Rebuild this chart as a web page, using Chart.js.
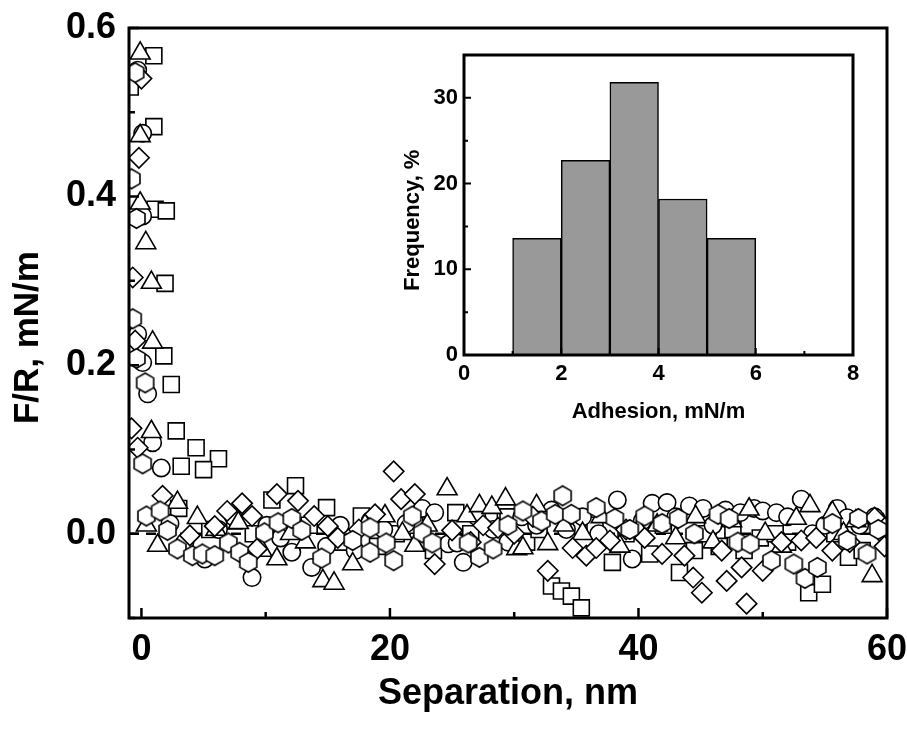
<!DOCTYPE html>
<html lang="en">
<head>
<meta charset="UTF-8">
<title>F/R vs separation</title>
<script src="https://cdn.jsdelivr.net/npm/chart.js@4.4.1/dist/chart.umd.min.js"></script>
<style>
  html, body { margin: 0; padding: 0; background: #fff; }
  #wrap { position: relative; width: 907px; height: 729px; }
  #inset { position: absolute; left: 385px; top: 40px; background: #fff; }
</style>
</head>
<body>
<div id="wrap">
  <canvas id="main" width="907" height="729"></canvas>
  <canvas id="inset" width="485" height="395"></canvas>
</div>
<script>
// ---- main plot data (separation nm, F/R mN/m) ----
const squareX = [-0.9, 1.0, 1.0, 1.1, 2.0, 1.9, 1.8, 2.4, 2.8, 4.4, 6.2, 3.2, 5.0,
  3.0, 5.5, 7.5, 9.0, 10.5, 12.4, 13.5, 14.9, 16.2, 17.7, 19.0, 20.5, 22.0, 23.5, 25.3, 26.5,
  28.0, 29.5, 31.0, 32.0, 33.0, 33.8, 34.6, 35.4, 36.5, 37.9, 39.0, 40.9, 42.0, 43.3, 44.5,
  45.5, 46.5, 47.6, 48.5, 49.8, 51.0, 52.0, 53.7, 54.8, 55.8, 56.9, 58.0, 59.5];
const squareY = [0.53, 0.567, 0.483, 0.385, 0.383, 0.297, 0.211, 0.177, 0.122, 0.102, 0.089, 0.080, 0.076,
  0.030, 0.005, 0.015, 0.000, 0.040, 0.057, 0.010, 0.031, -0.010, 0.021, -0.015, 0.000, 0.010, -0.020, 0.025, 0.000,
  0.015, 0.020, -0.010, 0.005, -0.062, -0.068, -0.074, -0.088, 0.010, -0.034, 0.000, -0.024, 0.010, -0.046, -0.020,
  0.000, -0.015, 0.005, -0.020, -0.005, 0.000, -0.010, -0.070, -0.060, 0.000, -0.028, -0.020, 0.010];

const circleX = [-0.3, 0.1, 0.1, -0.3, 0.1, 0.5, 0.9, 1.6,
  2.3, 3.5, 5.1, 6.2, 7.4, 8.9, 10.1, 11.2, 12.1, 13.7, 14.9, 16.0, 17.2, 18.4, 19.5, 21.3, 22.6,
  23.6, 24.7, 25.4, 25.9, 27.0, 28.3, 29.5, 30.6, 31.8, 33.0, 34.2, 35.5, 36.8, 38.3, 39.5, 40.3,
  41.1, 42.3, 43.0, 44.1, 45.2, 46.0, 47.0, 48.2, 49.3, 50.0, 51.1, 52.0, 53.1, 54.0, 55.0, 56.0,
  56.8, 57.8, 59.0, 59.8];
const circleY = [0.550, 0.475, 0.377, 0.237, 0.203, 0.166, 0.108, 0.078,
  0.012, -0.010, -0.030, 0.005, 0.020, -0.052, 0.010, -0.005, -0.022, -0.040, -0.015, 0.010, -0.020, 0.015, 0.005, 0.012, 0.030,
  0.025, -0.012, -0.011, -0.034, 0.020, 0.005, -0.010, 0.020, 0.010, 0.028, 0.005, 0.020, 0.000, 0.040, -0.030, 0.015,
  0.036, 0.037, 0.020, 0.033, 0.030, 0.010, 0.028, 0.025, 0.030, 0.027, 0.025, 0.020, 0.041, 0.000, 0.010, 0.030,
  0.019, 0.010, 0.020, 0.000];

const triangleX = [-0.1, -0.1, -0.1, 0.35, 0.8, 0.9, 0.8,
  0.4, 1.3, 2.9, 4.5, 6.0, 7.8, 9.7, 10.9, 12.0, 13.2, 14.6, 15.5, 17.0, 18.0, 19.6, 21.0, 22.0,
  23.0, 24.6, 26.2, 27.2, 28.2, 29.3, 30.2, 30.7, 31.8, 32.7, 34.0, 35.5, 37.0, 38.5, 40.0, 41.5,
  43.0, 44.6, 46.0, 47.5, 48.9, 50.2, 51.5, 52.7, 53.8, 55.6, 56.5, 57.5, 58.8, 59.7];
const triangleY = [0.570, 0.472, 0.392, 0.345, 0.298, 0.227, 0.121,
  0.010, -0.014, 0.037, 0.019, 0.005, 0.013, -0.020, -0.030, 0.000, -0.010, -0.056, -0.059, -0.036, 0.010, 0.021, 0.000, -0.014,
  0.010, 0.053, 0.021, 0.033, 0.031, 0.041, -0.018, -0.017, 0.033, -0.012, 0.010, 0.000, 0.020, -0.015, 0.005, 0.010,
  -0.005, 0.020, -0.010, 0.015, 0.029, 0.000, -0.015, 0.018, 0.033, 0.025, 0.000, 0.015, -0.050, 0.010];

const diamondX = [0.0, -0.2, -0.7, -0.5, -0.8, -0.3,
  1.7, 3.9, 5.9, 6.9, 8.1, 8.9, 9.3, 10.9, 12.6, 13.9, 15.0, 15.8, 17.5, 18.8, 20.3, 20.9, 22.0,
  23.6, 25.0, 26.5, 27.5, 28.7, 30.0, 31.5, 32.7, 34.7, 35.8, 36.6, 37.7, 39.0, 40.5, 41.9, 43.7,
  44.4, 45.1, 46.7, 47.1, 48.3, 48.7, 50.0, 51.5, 53.1, 54.3, 55.6, 57.0, 59.0, 59.8];
const diamondY = [0.540, 0.446, 0.304, 0.229, 0.125, 0.102,
  0.045, -0.002, 0.009, 0.027, 0.036, 0.021, -0.018, 0.047, 0.039, 0.021, 0.009, -0.005, 0.005, 0.023, 0.074, 0.041, 0.047,
  -0.036, 0.004, -0.010, 0.010, 0.007, 0.000, 0.020, -0.044, -0.017, -0.026, -0.017, -0.008, 0.005, -0.005, -0.024, -0.026,
  -0.052, -0.070, -0.020, -0.056, -0.040, -0.083, -0.044, -0.010, -0.008, -0.005, -0.020, -0.010, 0.019, -0.015];

const hexagonX = [-0.5, -0.8, -0.4, -0.7, -0.4, 0.3, 0.1,
  0.4, 1.5, 2.1, 2.9, 4.1, 4.9, 5.9, 7.0, 7.9, 8.6, 9.9, 11.0, 12.1, 12.9, 14.5, 17.0, 18.4,
  18.4, 19.7, 20.3, 21.8, 22.6, 23.4, 26.3, 27.2, 28.3, 29.5, 30.7, 32.2, 33.3, 33.9, 34.6, 36.6,
  38.1, 39.3, 40.5, 41.9, 43.2, 44.5, 46.4, 47.3, 48.0, 49.0, 50.7, 52.5, 53.4, 54.4, 55.6, 56.8,
  57.7, 58.4, 59.3];
const hexagonY = [0.547, 0.421, 0.374, 0.255, 0.208, 0.179, 0.083,
  0.021, 0.027, 0.004, -0.018, -0.026, -0.024, -0.026, -0.011, -0.022, -0.034, 0.001, 0.013, 0.018, 0.004, -0.029, -0.008, 0.007,
  -0.022, -0.011, -0.032, 0.021, 0.001, -0.011, -0.011, -0.028, -0.018, 0.010, 0.027, 0.015, 0.023, 0.045, 0.023, 0.031,
  0.018, 0.005, 0.021, 0.012, 0.018, 0.000, 0.023, 0.018, -0.010, -0.012, -0.032, -0.036, -0.053, -0.040, 0.012, -0.008,
  0.018, -0.024, 0.005];

const zeroLineX = [-1, 60];
const zeroLineY = [0, 0];

const mainXTicks = [0, 20, 40, 60];
const mainXMinor = [10, 30, 50];
const mainYTicks = [0, 0.2, 0.4, 0.6];
const mainYMinor = [-0.1, 0.1, 0.3, 0.5];

// ---- inset histogram ----
const binCenters = [1.5, 2.5, 3.5, 4.5, 5.5];
const binFrequency = [13.6, 22.7, 31.8, 18.2, 13.6];
const insetXTicks = [0, 2, 4, 6, 8];
const insetXMinor = [1, 3, 5, 7];
const insetYTicks = [0, 10, 20, 30];
const insetYMinor = [5, 15, 25];

const FONT = "'Liberation Sans', Arial, sans-serif";

function pts(xs, ys) { return xs.map((x, i) => ({ x: x, y: ys[i] })); }

function hexImage(r, lw) {
  const s = Math.ceil(2 * r + lw * 2);
  const c = document.createElement('canvas');
  c.width = s; c.height = s;
  const g = c.getContext('2d');
  g.beginPath();
  for (let i = 0; i < 6; i++) {
    const a = -Math.PI / 2 + i * Math.PI / 3;
    const px = s / 2 + r * Math.cos(a), py = s / 2 + r * Math.sin(a);
    if (i) g.lineTo(px, py); else g.moveTo(px, py);
  }
  g.closePath();
  g.fillStyle = '#fff'; g.fill();
  g.lineWidth = lw; g.strokeStyle = '#000'; g.stroke();
  return c;
}

// frame + inward ticks, drawn from the chart's own scales
const frame = {
  id: 'frame',
  afterDatasetsDraw(chart, args, o) {
    const { ctx, chartArea: a, scales: { x, y } } = chart;
    ctx.save();
    ctx.strokeStyle = '#000';
    ctx.lineWidth = o.tickWidth;
    ctx.beginPath();
    const tx = (vals, len) => vals.forEach(v => {
      const p = x.getPixelForValue(v);
      ctx.moveTo(p, a.bottom); ctx.lineTo(p, a.bottom - len);
    });
    const ty = (vals, len) => vals.forEach(v => {
      const p = y.getPixelForValue(v);
      ctx.moveTo(a.left, p); ctx.lineTo(a.left + len, p);
    });
    tx(o.xMajor, o.major); tx(o.xMinor, o.minor);
    ty(o.yMajor, o.major); ty(o.yMinor, o.minor);
    ctx.stroke();
    ctx.lineWidth = o.width;
    ctx.strokeRect(a.left, a.top, a.right - a.left, a.bottom - a.top);
    ctx.restore();
  }
};

// fixed axis boxes, no extra padding for overhanging labels
const fitX = h => s => { s.height = h; s.paddingLeft = 0; s.paddingRight = 0; };
const fitY = w => s => { s.width = w; s.paddingTop = 0; s.paddingBottom = 0; };

const mk = { borderColor: '#000', backgroundColor: '#fff', borderWidth: 1.6, showLine: false };

new Chart(document.getElementById('main'), {
  type: 'scatter',
  data: {
    datasets: [
      { type: 'line', data: pts(zeroLineX, zeroLineY), borderColor: '#000', borderWidth: 2.5,
        borderDash: [10, 7], pointRadius: 0, fill: false, order: 6 },
      Object.assign({ data: pts(squareX, squareY), pointStyle: 'rect', pointRadius: 11.3, order: 5 }, mk),
      Object.assign({ data: pts(circleX, circleY), pointStyle: 'circle', pointRadius: 8.7, order: 4 }, mk),
      Object.assign({ data: pts(triangleX, triangleY), pointStyle: 'triangle', pointRadius: 11.5, order: 3 }, mk),
      Object.assign({ data: pts(diamondX, diamondY), pointStyle: 'rectRot', pointRadius: 10.2, order: 2 }, mk),
      Object.assign({ data: pts(hexagonX, hexagonY), pointStyle: hexImage(9.8, 1.6), order: 1 }, mk)
    ]
  },
  options: {
    responsive: false,
    animation: false,
    devicePixelRatio: 1,
    layout: { padding: { top: 28, right: 20, left: 0, bottom: 0 } },
    plugins: {
      legend: { display: false },
      tooltip: { enabled: false },
      frame: { width: 3, tickWidth: 2.5, major: 10, minor: 6,
        xMajor: mainXTicks, xMinor: mainXMinor, yMajor: mainYTicks, yMinor: mainYMinor }
    },
    scales: {
      x: {
        type: 'linear', min: -1, max: 60,
        grid: { display: false, drawTicks: false },
        border: { display: false },
        afterBuildTicks: s => { s.ticks = mainXTicks.map(v => ({ value: v })); },
        afterFit: fitX(111),
        ticks: { color: '#000', padding: 10, maxRotation: 0, font: { family: FONT, weight: 'bold', size: 36 } },
        title: { display: true, text: 'Separation, nm', color: '#000', padding: { top: 0, bottom: 13 },
          font: { family: FONT, weight: 'bold', size: 36 } }
      },
      y: {
        type: 'linear', min: -0.1, max: 0.6,
        grid: { display: false, drawTicks: false },
        border: { display: false },
        afterBuildTicks: s => { s.ticks = mainYTicks.map(v => ({ value: v })); },
        afterFit: fitY(129),
        ticks: { color: '#000', padding: 13, callback: v => v.toFixed(1),
          font: { family: FONT, weight: 'bold', size: 36 } },
        title: { display: true, text: 'F/R, mN/m   ', color: '#000', padding: { top: 7, bottom: 0 },
          font: { family: FONT, weight: 'bold', size: 35 } }
      }
    }
  },
  plugins: [frame]
});

new Chart(document.getElementById('inset'), {
  type: 'bar',
  data: {
    datasets: [{
      data: pts(binCenters, binFrequency),
      backgroundColor: '#999999', borderColor: '#000', borderWidth: 1.5,
      barPercentage: 1, categoryPercentage: 1
    }]
  },
  options: {
    responsive: false,
    animation: false,
    devicePixelRatio: 1,
    layout: { padding: { top: 15, right: 17, left: 0, bottom: 0 } },
    plugins: {
      legend: { display: false },
      tooltip: { enabled: false },
      frame: { width: 3, tickWidth: 2, major: 7, minor: 4,
        xMajor: insetXTicks, xMinor: insetXMinor, yMajor: insetYTicks, yMinor: insetYMinor }
    },
    scales: {
      x: {
        type: 'linear', min: 0, max: 8, offset: false,
        grid: { display: false, drawTicks: false },
        border: { display: false },
        afterBuildTicks: s => { s.ticks = insetXTicks.map(v => ({ value: v })); },
        afterFit: fitX(80),
        ticks: { color: '#000', padding: 6, maxRotation: 0, font: { family: FONT, weight: 'bold', size: 22 } },
        title: { display: true, text: 'Adhesion, mN/m', color: '#000', padding: { top: 0, bottom: 10 },
          font: { family: FONT, weight: 'bold', size: 22 } }
      },
      y: {
        type: 'linear', min: 0, max: 35,
        grid: { display: false, drawTicks: false },
        border: { display: false },
        afterBuildTicks: s => { s.ticks = insetYTicks.map(v => ({ value: v })); },
        afterFit: fitY(79),
        ticks: { color: '#000', padding: 6, font: { family: FONT, weight: 'bold', size: 22 } },
        title: { display: true, text: 'Frequency, %     ', color: '#000', padding: { top: 15, bottom: 0 },
          font: { family: FONT, weight: 'bold', size: 22 } }
      }
    }
  },
  plugins: [frame]
});
</script>
</body>
</html>
